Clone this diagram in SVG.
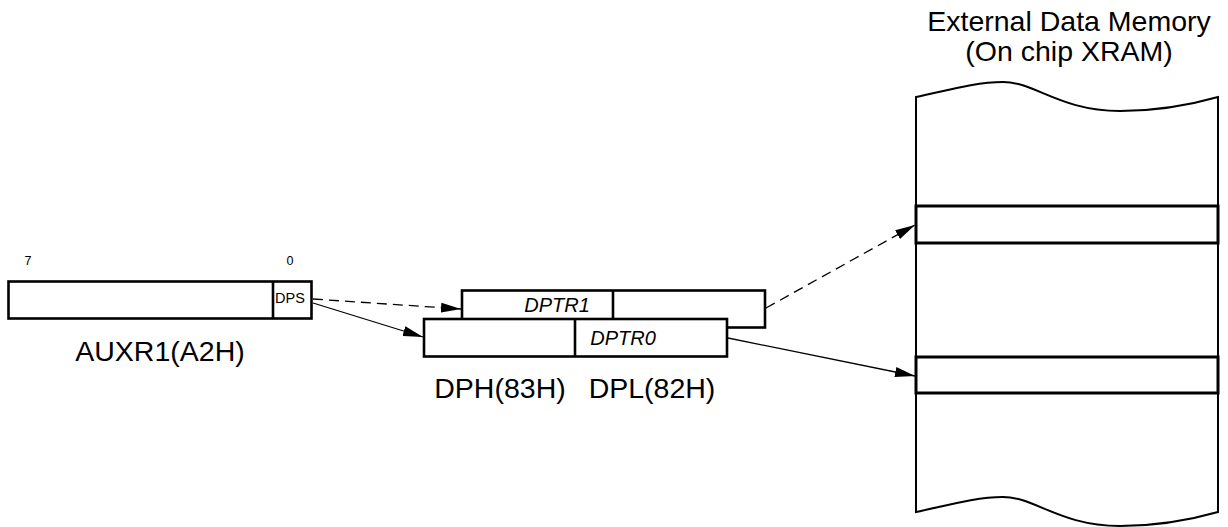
<svg xmlns="http://www.w3.org/2000/svg" width="1228" height="527" viewBox="0 0 1228 527">
<style>
text{font-family:"Liberation Sans",Arial,sans-serif;fill:#000}
.big{font-size:28.5px}
.it{font-size:20px;font-style:italic}
.box{fill:#fff;stroke:#000;stroke-width:2.6}
.div{stroke:#000;stroke-width:2.6}
.slot{fill:#fff;stroke:#000;stroke-width:3}
.conn{fill:none;stroke:#000;stroke-width:1.3}
.dash{stroke-dasharray:10,6}
</style>
<defs>
<marker id="ah" markerUnits="userSpaceOnUse" markerWidth="21" markerHeight="11" refX="20" refY="5.5" orient="auto">
<path d="M0,0.5 L20,5.5 L0,10.5 z" fill="#000"/>
</marker>
</defs>
<g id="auxr1">
<rect class="box" x="8.5" y="281.5" width="303" height="37"/>
<line class="div" x1="273" y1="281.5" x2="273" y2="318.5"/>
<text x="28" y="265" font-size="12.5" text-anchor="middle">7</text>
<text x="290" y="265" font-size="12.5" text-anchor="middle">0</text>
<text x="275" y="303" font-size="14.5">DPS</text>
<text class="big" x="160" y="361" text-anchor="middle">AUXR1(A2H)</text>
</g>
<g id="dptr1">
<rect class="box" x="462" y="290.5" width="303" height="37"/>
<line class="div" x1="613" y1="290.5" x2="613" y2="327.5"/>
<text class="it" x="557" y="312" text-anchor="middle">DPTR1</text>
</g>
<g id="dptr0">
<rect class="box" x="424" y="319" width="303" height="37.5"/>
<line class="div" x1="575" y1="319" x2="575" y2="356.5"/>
<text class="it" x="623" y="345" text-anchor="middle">DPTR0</text>
<text class="big" x="500" y="398" text-anchor="middle">DPH(83H)</text>
<text class="big" x="652" y="398" text-anchor="middle">DPL(82H)</text>
</g>
<g id="xram">
<text class="big" x="1069" y="31" text-anchor="middle">External Data Memory</text>
<text class="big" x="1069" y="61" text-anchor="middle">(On chip XRAM)</text>
<path fill="#fff" stroke="#000" stroke-width="2" d="M916,97 C945,91 975,82 1003,82 C1035,82 1060,111 1120,111 C1160,111 1190,105 1218,97 L1218,512 C1190,520 1160,526 1120,526 C1060,526 1035,497 1003,497 C975,497 945,506 916,512 Z"/>
<rect class="slot" x="916" y="206" width="302" height="37"/>
<rect class="slot" x="916" y="357" width="302" height="36"/>
</g>
<g id="connectors">
<line class="conn dash" x1="313" y1="299" x2="461" y2="309" marker-end="url(#ah)"/>
<line class="conn" x1="313" y1="303" x2="423" y2="337" marker-end="url(#ah)"/>
<line class="conn dash" x1="766" y1="308" x2="915" y2="225" marker-end="url(#ah)"/>
<line class="conn" x1="728" y1="338" x2="915" y2="376" marker-end="url(#ah)"/>
</g>
</svg>
